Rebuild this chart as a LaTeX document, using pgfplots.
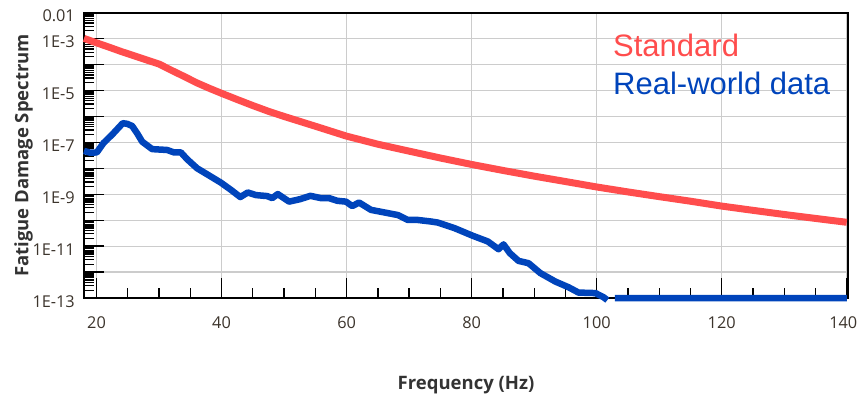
\documentclass[border=0pt]{standalone}
\usepackage{fontspec}
\setmainfont{Open Sans}
\newfontfamily\arialfont{Liberation Sans}
\usepackage{pgfplots}
\pgfplotsset{compat=1.18}
\definecolor{stdred}{RGB}{255,77,77}
\definecolor{rwblue}{RGB}{0,68,187}
\definecolor{labgray}{RGB}{51,51,51}
\definecolor{tickcol}{RGB}{60,52,44}
\definecolor{gridgray}{RGB}{204,204,204}
\begin{document}
\begin{tikzpicture}
\useasboundingbox (-84pt,-96pt) rectangle (774pt,298pt);
\begin{axis}[
  at={(0pt,0pt)}, anchor=south west,
  scale only axis, width=764pt, height=285.3pt,
  xmin=18, xmax=140.2, ymin=1e-13, ymax=1e-2,
  ymode=log,
  clip=false,
  xtick={20,40,60,80,100,120,140},
  xticklabels={20,40,60,80,100,120,{\hspace*{-7pt}140}},
  minor x tick num=3,
  ytick={1e-13,1e-12,1e-11,1e-10,1e-9,1e-8,1e-7,1e-6,1e-5,1e-4,1e-3,1e-2},
  yticklabels={1E-13,,1E-11,,1E-9,,1E-7,,1E-5,,1E-3,0.01},
  minor ytick={2e-13,3e-13,4e-13,5e-13,6e-13,7e-13,8e-13,9e-13,
    2e-12,3e-12,4e-12,5e-12,6e-12,7e-12,8e-12,9e-12,
    2e-11,3e-11,4e-11,5e-11,6e-11,7e-11,8e-11,9e-11,
    2e-10,3e-10,4e-10,5e-10,6e-10,7e-10,8e-10,9e-10,
    2e-9,3e-9,4e-9,5e-9,6e-9,7e-9,8e-9,9e-9,
    2e-8,3e-8,4e-8,5e-8,6e-8,7e-8,8e-8,9e-8,
    2e-7,3e-7,4e-7,5e-7,6e-7,7e-7,8e-7,9e-7,
    2e-6,3e-6,4e-6,5e-6,6e-6,7e-6,8e-6,9e-6,
    2e-5,3e-5,4e-5,5e-5,6e-5,7e-5,8e-5,9e-5,
    2e-4,3e-4,4e-4,5e-4,6e-4,7e-4,8e-4,9e-4,
    2e-3,3e-3,4e-3,5e-3,6e-3,7e-3,8e-3,9e-3},
  tick align=inside, tick pos=left,
  major tick length=20pt, minor tick length=10pt,
  every tick/.style={black, line width=1.3pt},
  xmajorgrids, ymajorgrids,
  major grid style={gridgray, line width=1.2pt},
  axis line style={black, line width=1.8pt},
  ticklabel style={font=\fontsize{16.3}{18}\selectfont, text=tickcol},
  yticklabel style={anchor=east, inner sep=0pt, xshift=-9pt, yshift=-3.5pt},
  xticklabel style={anchor=north, inner sep=0pt, yshift=-18.7pt},
  xlabel={Frequency (Hz)}, ylabel={Fatigue Damage Spectrum},
  label style={font=\bfseries\fontsize{18.5}{20}\selectfont, text=labgray},
  xlabel style={at={(axis description cs:0.5,-0.319)}, anchor=base},
  ylabel style={at={(axis description cs:-0.0729,0.5)}, anchor=base},
  unbounded coords=jump,
]
\addplot[stdred, line width=7pt, line join=round] coordinates {
(18,1.02e-3) (20,6.9e-4) (22,4.7e-4) (24,3.16e-4) (26,2.19e-4) (28,1.51e-4)
(30,1.05e-4) (32,6.0e-5) (34,3.5e-5) (36,2.0e-5) (38,1.23e-5) (40,7.8e-6)
(42.5,4.5e-6) (45,2.63e-6) (47.5,1.58e-6) (50,1.0e-6) (55,4.2e-7) (60,1.74e-7)
(65,8.5e-8) (70,4.6e-8) (75,2.5e-8) (80,1.41e-8) (85,8.3e-9) (90,5.0e-9)
(95,3.1e-9) (100,1.91e-9) (105,1.23e-9) (110,8.1e-10) (115,5.4e-10)
(120,3.5e-10) (125,2.4e-10) (130,1.66e-10) (135,1.17e-10) (140,8.3e-11)
};
\addplot[rwblue, line width=6.5pt, line join=round] coordinates {
(18.0,4.7e-8) (19.0,4.0e-8) (20.05,4.1e-8) (21.1,9.3e-8) (22.7,2.24e-7)
(24.2,5.5e-7) (24.9,5.2e-7) (25.7,4.3e-7) (26.5,2.24e-7) (27.3,1.07e-7)
(28.9,5.5e-8) (31.3,5.1e-8) (32.4,4.1e-8) (33.5,4.1e-8) (34.5,2.24e-8)
(36.1,1.0e-8) (38.3,4.8e-9) (39.9,2.8e-9) (41.5,1.48e-9) (43.0,7.8e-10)
(44.2,1.17e-9) (45.5,9.3e-10) (47.3,8.5e-10) (48.1,7.1e-10) (49.0,1.02e-9)
(50.8,5.2e-10) (52.6,6.5e-10) (54.2,8.7e-10) (55.9,7.1e-10) (57.2,7.1e-10)
(58.5,5.6e-10) (59.9,5.2e-10) (60.9,3.5e-10) (62.0,4.8e-10) (63.9,2.5e-10)
(66.0,2.0e-10) (68.2,1.58e-10) (69.8,1.02e-10) (71.4,1.02e-10) (73.5,8.9e-11)
(74.6,8.1e-11) (77.3,4.9e-11) (80.2,2.5e-11) (82.6,1.51e-11) (84.3,7.6e-12)
(85.1,1.17e-11) (86.1,5.4e-12) (87.5,2.7e-12) (89.1,2.2e-12) (91.0,9.1e-13)
(93.4,4.3e-13) (95.5,2.6e-13) (97.1,1.62e-13) (99.8,1.55e-13) (101.1,1.07e-13)
(101.7,8.3e-14) (102.3,nan) (102.9,1e-13) (140.0,1e-13)
};
\node[anchor=base west, inner sep=0pt, text=stdred, font=\arialfont\fontsize{31}{31}\selectfont] at (rel axis cs:0.6924,0.8458) {Standard};
\node[anchor=base west, inner sep=0pt, text=rwblue, font=\arialfont\fontsize{31}{31}\selectfont] at (rel axis cs:0.6924,0.715) {Real-world data};
\end{axis}
\end{tikzpicture}
\end{document}
